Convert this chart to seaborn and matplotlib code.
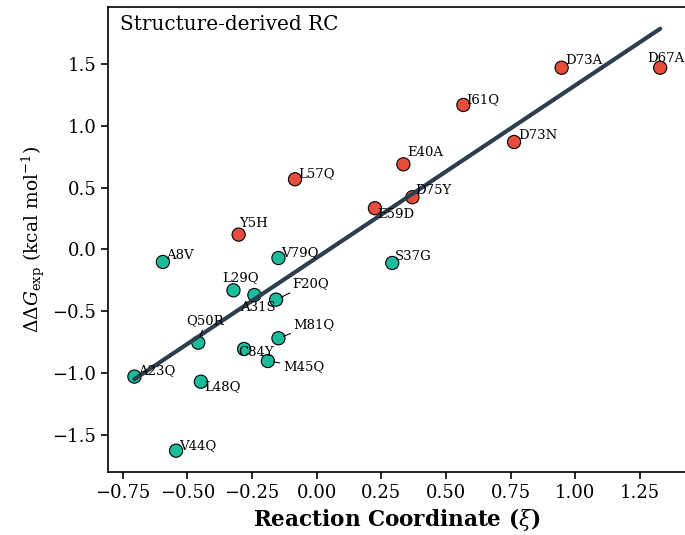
import numpy as np
import pandas as pd
import matplotlib
matplotlib.use("Agg")
import matplotlib.pyplot as plt
import seaborn as sns

# ---- data ----
mutants = ["D67A", "D73A", "I61Q", "D73N", "E40A", "L57Q", "D75Y", "E59D", "Y5H",
           "A8V", "V79Q", "S37G", "L29Q", "A31S", "F20Q", "Q50R", "M81Q", "C84Y",
           "M45Q", "A23Q", "L48Q", "V44Q"]
rc_values = [1.328, 0.947, 0.567, 0.763, 0.335, -0.084, 0.370, 0.225, -0.302,
             -0.595, -0.148, 0.292, -0.322, -0.241, -0.157, -0.458, -0.148, -0.281,
             -0.189, -0.705, -0.448, -0.544]
ddg_exp = [1.468, 1.468, 1.167, 0.868, 0.688, 0.567, 0.422, 0.333, 0.120,
           -0.101, -0.069, -0.109, -0.330, -0.368, -0.405, -0.753, -0.717, -0.804,
           -0.901, -1.027, -1.068, -1.625]
legend_text = r"RMSE=0.47, $R_p$=0.83"

# ---- label placement (pixel offsets of label centre from point; y up) ----
label_offsets_px = {
    "D67A": (6, 8.9), "D73A": (22, 6.9), "I61Q": (19.4, 5.8), "D73N": (23.5, 6.2),
    "E40A": (21.4, 11.8), "L57Q": (21.3, 6), "D75Y": (21.4, 6.3), "E59D": (21.3, -6.4),
    "Y5H": (15.1, 11.2), "A8V": (17.3, 6.2), "V79Q": (21.7, 5.5), "S37G": (20.7, 6.2),
    "L29Q": (7, 12.8), "A31S": (3.2, -12.2), "F20Q": (34, 16.4), "Q50R": (7.2, 22.2),
    "M81Q": (35.9, 14.1), "C84Y": (12, -3.5), "M45Q": (35.8, -5.7), "A23Q": (22.7, 5.9),
    "L48Q": (21.6, -4.6), "V44Q": (21.8, 5.2),
}
leader_labels = {"F20Q", "Q50R", "M81Q", "M45Q"}

df = pd.DataFrame({"mutant": mutants, "rc": rc_values, "ddg": ddg_exp})
df["group"] = np.where(df["ddg"] > 0, "destab", "stab")

sns.set_style("ticks")
plt.rcParams["font.family"] = "serif"
plt.rcParams["font.serif"] = ["DejaVu Serif"]
plt.rcParams["mathtext.fontset"] = "dejavuserif"
plt.rcParams["text.color"] = "black"
plt.rcParams["axes.labelcolor"] = "black"

fig = plt.figure(figsize=(6.85, 5.35), dpi=100)
ax = fig.add_axes([108.3 / 685, (535 - 471.7) / 535, (685 - 108.3) / 685, (471.7 - 7.3) / 535])

sns.scatterplot(data=df, x="rc", y="ddg", hue="group",
                palette={"destab": "#e74c3c", "stab": "#1abc9c"},
                s=90, edgecolor="black", linewidth=0.8, legend=False, ax=ax, zorder=2)
sns.regplot(data=df, x="rc", y="ddg", scatter=False, ci=None, truncate=True,
            line_kws=dict(color="#2c3e50", lw=3, label=legend_text, zorder=3), ax=ax)

for m, xv, yv in zip(mutants, rc_values, ddg_exp):
    dx, dy = label_offsets_px[m]
    kw = {}
    if m in leader_labels:
        kw["arrowprops"] = dict(arrowstyle="-", color="black", lw=0.8, shrinkA=0, shrinkB=4)
    ax.annotate(m, (xv, yv), xytext=(dx * 0.72, dy * 0.72), textcoords="offset points",
                ha="center", va="center", fontsize=9.5, color="black", zorder=4, **kw)

ax.set_xlim(-0.806, 1.424)
ax.set_ylim(-1.795, 1.956)
ax.set_xticks([-0.75, -0.5, -0.25, 0.0, 0.25, 0.5, 0.75, 1.0, 1.25])
ax.set_yticks([-1.5, -1.0, -0.5, 0.0, 0.5, 1.0, 1.5])
ax.tick_params(labelsize=13, length=5, width=1.2, colors="black")
ax.set_xlabel(r"Reaction Coordinate ($\xi$)", fontsize=15.5, fontweight="bold", labelpad=3)
ax.set_ylabel(r"$\Delta\Delta G_{\mathrm{exp}}$ (kcal mol$^{-1}$)", fontsize=13.5)
for s in ["left", "bottom", "top"]:
    ax.spines[s].set_linewidth(1.2)
    ax.spines[s].set_color("black")
ax.spines["right"].set_visible(False)

ax.text(0.021, 0.984, "Structure-derived RC", transform=ax.transAxes,
        ha="left", va="top", fontsize=14.4, color="black")
leg = ax.legend(loc="lower right", frameon=False, fontsize=12.7, handlelength=2.4)
for t in leg.get_texts():
    t.set_color("black")

fig.savefig("out.png", dpi=100)
